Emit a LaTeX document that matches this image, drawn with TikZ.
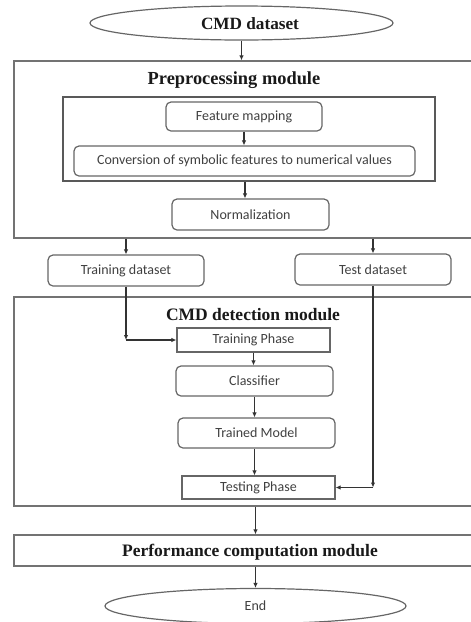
\documentclass[tikz,border=0pt]{standalone}
\usepackage{fontspec}
\setmainfont{Liberation Serif}
\newfontfamily\boxfont{Carlito}
\usetikzlibrary{shapes.geometric,arrows.meta}
\begin{document}
\begin{tikzpicture}[x=1pt,y=-1pt,
  line/.style={draw=black!80, line width=1.2pt},
  arr/.style={line, -{Latex[length=5pt,width=4.5pt]}},
  boxtext/.style={font=\boxfont\fontsize{14}{16}\selectfont, text=black!75},
  rbox/.style={draw=black!60, line width=1.2pt, rounded corners=5pt, inner sep=0pt, boxtext},
  sbox/.style={draw=black!60, line width=1.2pt, inner sep=0pt, boxtext},
  module/.style={draw=black!55, line width=1.3pt, inner sep=0pt},
  ell/.style={ellipse, draw=black!60, line width=1.2pt, inner sep=0pt},
  title/.style={font=\bfseries\fontsize{17.5}{20}\selectfont, text=black!90}
]
\useasboundingbox (0,0) rectangle (471,622);

% top
\node[ell, minimum width=303pt, minimum height=34pt] (start) at (241.5,23) {};
\node[title, font=\bfseries\fontsize{17.2}{20}\selectfont] (starttitle) at (250,24) {CMD dataset};

% preprocessing module
\node[module, minimum width=459pt, minimum height=177pt] (pre) at (243.5,149.5) {};
\node[title, font=\bfseries\fontsize{18.4}{20}\selectfont] (pretitle) at (234,80) {Preprocessing module};
\node[module, draw=black!65, minimum width=372pt, minimum height=84pt] (inner) at (249,139) {};
\node[rbox, minimum width=156pt, minimum height=29pt] (fm) at (244,116.5) {Feature mapping};
\node[rbox, minimum width=341pt, minimum height=30pt] (conv) at (244.5,161) {Conversion of symbolic features to numerical values};
\node[rbox, minimum width=157pt, minimum height=31pt] (norm) at (250.5,214.5) {Normalization};

% datasets
\node[rbox, minimum width=156pt, minimum height=31pt] (trainds) at (126,270.5) {Training dataset};
\node[rbox, minimum width=156pt, minimum height=31pt] (testds) at (373,269.5) {Test dataset};

% detection module
\node[module, minimum width=459pt, minimum height=209pt] (det) at (243.5,401.5) {};
\node[title] (dettitle) at (253,315) {CMD detection module};
\node[sbox, minimum width=153pt, minimum height=24pt] (tp) at (253.5,340) {Training Phase};
\node[rbox, minimum width=157pt, minimum height=30pt] (cls) at (254.5,381) {Classifier};
\node[rbox, minimum width=157pt, minimum height=30pt] (tm) at (256.5,433) {Trained Model};
\node[sbox, minimum width=153pt, minimum height=23pt] (testp) at (258.5,487.5) {Testing Phase};

% performance
\node[module, minimum width=459pt, minimum height=31pt] (perf) at (243.5,550.5) {};
\node[title] (perftitle) at (250,552) {Performance computation module};

% end
\node[ell, minimum width=301pt, minimum height=35pt, boxtext] (end) at (255.5,606) {End};

\coordinate (c1) at (trainds.south |- tp.west);
\coordinate (c2) at (testds.south |- testp.east);

% connectors
\draw[arr] (start.south) -- (start.south |- pre.north);
\draw[arr] (fm.south) -- (fm.south |- conv.north);
\draw[arr] (inner.south -| 245,0) -- (245,0 |- norm.north);
\draw[arr] (trainds.north |- pre.south) -- (trainds.north);
\draw[arr] (testds.north |- pre.south) -- (testds.north);
\draw[arr] (trainds.south) -- (c1);
\draw[arr] (c1) -- (tp.west);
\draw[arr] (tp.south) -- (tp.south |- cls.north);
\draw[arr] (cls.south) -- (cls.south |- tm.north);
\draw[arr] (cls.south |- tm.south) -- (cls.south |- testp.north);
\draw[arr] (testds.south) -- (c2);
\draw[arr] (c2) -- (testp.east);
\draw[arr] (det.south -| end.north) -- (perf.north -| end.north);
\draw[arr] (perf.south -| end.north) -- (end.north);
\end{tikzpicture}
\end{document}
